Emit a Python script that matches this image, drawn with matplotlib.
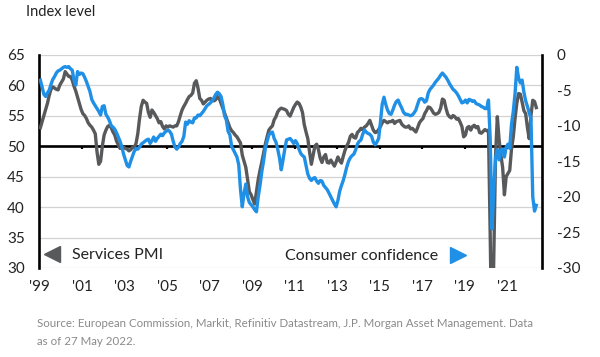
import matplotlib
matplotlib.use("Agg")
import matplotlib.pyplot as plt
import numpy as np

# ---------------- data (monthly, Jan 1999 - May 2022) ----------------
start_year = 1999
services_pmi = [
    53, 54, 55, 56, 57, 58.3, 59.3, 59.7, 59.5, 59.3, 59.2, 60,            # 1999
    60.5, 61, 62.2, 61.8, 61.4, 61.4, 60.8, 59.8, 59, 58, 57, 56,          # 2000
    55.3, 55, 54.5, 53.8, 53.4, 53.1, 52.6, 52, 49, 47, 47.5, 50,          # 2001
    51.8, 52.6, 53.2, 53.4, 53, 52.3, 51.8, 50.8, 50.2, 49.6, 49.7, 49.8,  # 2002
    49.6, 49.5, 49.2, 49.4, 49.8, 49.8, 50.4, 52, 54.5, 56.5, 57.5, 57.2,  # 2003
    57, 55.5, 54.7, 55.9, 55.5, 55, 54.5, 53.8, 54, 53.2, 52.8, 53.3,      # 2004
    53.1, 53.3, 53.2, 53.1, 53.3, 53.3, 54, 55, 55.9, 56.5, 57, 57.6,      # 2005
    58.1, 58.3, 58.7, 60.3, 60.7, 59.5, 57.8, 57.5, 56.9, 57.2, 57.5, 57.7,  # 2006
    57.8, 57.5, 57.4, 57.6, 58.1, 57.8, 57, 56.2, 55.4, 54.6, 53.8, 53,    # 2007
    52.5, 52.2, 51.8, 51.5, 51, 50.5, 48.5, 47.5, 46.5, 44.5, 42.5, 42,    # 2008
    41.2, 40.5, 42.5, 44.5, 46, 47.3, 48.8, 50.3, 51.5, 52.6, 53, 53.3,    # 2009
    54.3, 54.8, 55.6, 56, 56.2, 56.1, 56, 55.8, 55.2, 54.9, 55.6, 56.3,    # 2010
    56.8, 57.2, 57, 56.4, 55.5, 53.5, 52.3, 51.2, 49, 47, 48.5, 50,        # 2011
    50.3, 49.4, 48, 47.3, 48.2, 48.6, 47.3, 47.2, 47.7, 47.2, 46.7, 47.4,  # 2012
    48.2, 47.6, 47.2, 48.3, 49.3, 50, 50.6, 51.6, 51.9, 51.4, 51.3, 52.2,  # 2013
    52.5, 52.9, 52.7, 53.1, 53.3, 53.7, 54.2, 53.4, 52.6, 52.2, 52.3, 52.7,  # 2014
    53.2, 53.8, 54.2, 54, 53.8, 54, 54, 54.2, 53.7, 54, 54.1, 54.2,        # 2015
    53.6, 53.3, 53.1, 53.1, 53.3, 52.8, 52.9, 52.6, 52.3, 53, 53.8, 54.2,  # 2016
    54.5, 55.3, 55.8, 56.4, 56.3, 55.9, 55.4, 55.2, 55.3, 55.5, 56.2, 57.7,  # 2017
    57.5, 56.2, 55.2, 54.8, 54.6, 55, 54.8, 54.4, 54.5, 53.9, 53.2, 51.5,  # 2018
    51.8, 53, 53.2, 52.6, 53.2, 53.4, 53, 53.2, 52.2, 52.1, 52.4, 52.7,    # 2019
    52.5, 52.6, 35, 15, 32, 48.5, 54.8, 51, 48.5, 46.5, 42, 45,            # 2020
    45.5, 46, 49.5, 51.5, 54.5, 57, 58.6, 58.5, 57.2, 55.8, 55.3, 53,      # 2021
    51.2, 55, 57.5, 57.3, 56.3,                                            # 2022
]
consumer_confidence = [
    -3.6, -4.6, -5.6, -5.9, -5.4, -5, -4.2, -3.5, -3.1, -2.6, -2.3, -2.2,          # 1999
    -2, -1.8, -1.7, -1.8, -1.7, -2, -2.2, -3.6, -4.3, -2.4, -2.8, -2.6,            # 2000
    -2.7, -3.2, -3.8, -4.5, -5.2, -6.3, -6.8, -7.2, -7.6, -8, -8.5, -7.3,          # 2001
    -7.2, -8.4, -8.8, -9.3, -10, -10.2, -10.5, -11, -11.6, -12.2, -13, -14,        # 2002
    -14.8, -15.6, -15.8, -15, -14.3, -13.6, -13.2, -13.3, -13, -12.6, -12.4, -12.2,  # 2003
    -12, -11.9, -12.5, -12.1, -11.6, -12.2, -11.8, -11.5, -11.2, -11.4, -11, -10.8,  # 2004
    -10.6, -10.8, -11.2, -12.2, -13, -13.3, -13, -12.5, -12.2, -11.5, -9.5, -9.8,  # 2005
    -9.3, -9.5, -9.6, -8.9, -8.9, -8.5, -8.6, -8.3, -8, -7.6, -7.2, -7,            # 2006
    -6.8, -6.5, -6.1, -5.6, -5.3, -5.5, -5.9, -7, -8.6, -9.2, -10.8, -11.3,        # 2007
    -12.9, -13.4, -13.9, -14.4, -15.5, -19, -21.4, -19.5, -18.2, -20, -20.8, -21.1,  # 2008
    -21.4, -21.8, -22.1, -20, -18.4, -16.5, -15, -13.2, -12.2, -11.3, -11, -10.9,  # 2009
    -11.8, -12.3, -13.3, -14.5, -16.2, -14.8, -13.3, -12, -11.9, -11.8, -12.1, -12.5,  # 2010
    -12.1, -12.5, -13.3, -13.9, -14.2, -14.4, -15.6, -16.8, -17.4, -17.7, -17.4, -17.3,  # 2011
    -17.8, -18.1, -17.7, -17.8, -18.4, -18.7, -19, -19.5, -20, -20.5, -21, -21.4,  # 2012
    -20.5, -19.2, -18.4, -17.7, -16.8, -15.8, -15, -14.5, -14.2, -14, -13.4, -12.6,  # 2013
    -12.2, -12, -11.2, -10.6, -10.9, -11.1, -11.2, -11.5, -12.3, -12.7, -12.3, -11.8,  # 2014
    -9.5, -7, -6, -7, -7.8, -8.3, -8.4, -7.8, -7.1, -6.6, -6.4, -7,                # 2015
    -7.5, -8.1, -8.4, -8.4, -8.5, -8.6, -8.5, -8.2, -7.8, -7, -6.3, -6.2,          # 2016
    -6.3, -6.7, -6.5, -5.4, -4.9, -4.6, -4.3, -3.9, -3.6, -3.3, -2.9, -2.6,        # 2017
    -2.9, -3.2, -3.6, -4.1, -4.5, -4.9, -5.1, -5.4, -5.8, -6.3, -6.8, -6.7,        # 2018
    -6.4, -6.8, -6.3, -6.4, -6.6, -6.5, -6.9, -7, -7.1, -7.3, -7.4, -7.6,          # 2019
    -7.6, -6.4, -12, -24.5, -19, -14.5, -13.4, -14.8, -13.4, -13.3, -14.4, -13,    # 2020
    -12.6, -13.2, -9.8, -8, -5.5, -1.8, -3.3, -4, -3.6, -5.3, -6.5, -7.3,          # 2021
    -8.2, -9, -20, -22, -21.2,                                                     # 2022
]
xtick_years = list(range(1999, 2022, 2))
xtick_labels = ["'%02d" % (y % 100) for y in xtick_years]
left_ticks = [30, 35, 40, 45, 50, 55, 60, 65]
right_ticks = [-30, -25, -20, -15, -10, -5, 0]

# ---------------- style ----------------
GREY = "#58595b"
BLUE = "#1f90e6"
FONT = ["Lato", "DejaVu Sans"]
plt.rcParams["font.family"] = FONT

n = len(services_pmi)
t = start_year + (np.arange(n) + 0.5) / 12.0

fig = plt.figure(figsize=(6.0, 3.57), dpi=100)
ax = fig.add_axes([0.0658, 0.2493, 0.8367, 0.598])
ax2 = ax.twinx()

ax.set_xlim(1999.0, 2022.62)
ax.set_ylim(30, 65)
ax2.set_ylim(-30, 0)

# grid
for v in left_ticks:
    ax.axhline(v, color="#d2d2d2", lw=0.9, zorder=0)
ax.axhline(50, color="black", lw=1.9, zorder=1)
ax.vlines(xtick_years[1:], 49.45, 50, color="black", lw=1.6, zorder=1)

ax.plot(t, services_pmi, color=GREY, lw=2.4, zorder=3, solid_joinstyle="round")
ax2.plot(t, consumer_confidence, color=BLUE, lw=2.4, zorder=4, solid_joinstyle="round")

# spines
for a in (ax, ax2):
    a.spines["top"].set_visible(False)
    a.spines["bottom"].set_visible(False)
ax.spines["left"].set_linewidth(1.9)
ax.spines["right"].set_visible(False)
ax2.spines["left"].set_visible(False)
ax2.spines["right"].set_linewidth(1.9)

ax.set_yticks(left_ticks)
ax.set_yticklabels([str(v) for v in left_ticks])
ax2.set_yticks(right_ticks)
ax2.set_yticklabels([str(v) for v in right_ticks])
ax.tick_params(axis="y", length=0, pad=10.5, labelsize=11, colors="#222222")
ax2.tick_params(axis="y", length=0, pad=11, labelsize=11, colors="#222222")
ax.set_xticks(xtick_years)
ax.set_xticklabels(xtick_labels)
ax.tick_params(axis="x", length=0, pad=8.5, labelsize=11, colors="#222222")

# legends inside
ax.plot([52 / 600], [1 - 254 / 357], marker="<", ms=12, color=GREY,
        transform=fig.transFigure, clip_on=False, zorder=5)
fig.text(72 / 600, 1 - 255 / 357, "Services PMI", fontsize=11.5,
         color="#222222", ha="left", va="center")
fig.text(438 / 600, 1 - 256 / 357, "Consumer confidence", fontsize=11.5,
         color="#222222", ha="right", va="center")
ax.plot([458 / 600], [1 - 255 / 357], marker=">", ms=12, color=BLUE,
        transform=fig.transFigure, clip_on=False, zorder=5)

fig.text(26 / 600, 1 - 12 / 357, "Index level", fontsize=10.5,
         color="#222222", ha="left", va="center")

src = ("Source: European Commission, Markit, Refinitiv Datastream, J.P. Morgan Asset Management. Data\n"
       "as of 27 May 2022.")
fig.text(37 / 600, 1 - 318 / 357, src, fontsize=8.3, color="#8a8a8a",
         ha="left", va="top", linespacing=1.75)

fig.savefig("out.png", dpi=100)
